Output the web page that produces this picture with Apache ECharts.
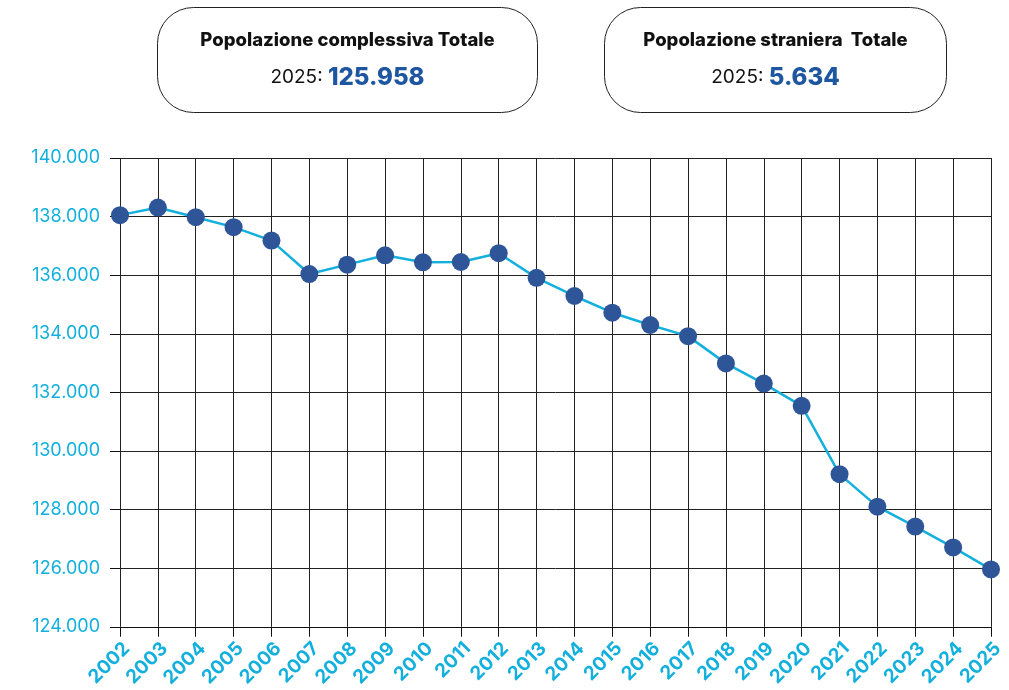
<!DOCTYPE html>
<html>
<head>
<meta charset="utf-8">
<script src="https://cdn.jsdelivr.net/npm/echarts@6/dist/echarts.min.js"></script>
<style>
  html, body { margin: 0; padding: 0; background: #fff; }
  #chart { width: 1009px; height: 690px; }
</style>
</head>
<body>
<div id="chart"></div>
<script>
// anni e popolazione residente totale
const years = ['2002', '2003', '2004', '2005', '2006', '2007', '2008', '2009', '2010', '2011', '2012', '2013',
  '2014', '2015', '2016', '2017', '2018', '2019', '2020', '2021', '2022', '2023', '2024', '2025']
const popolazione = [138050, 138310, 137980, 137640, 137180, 136040, 136360, 136680, 136440, 136450, 136750, 135910,
  135290, 134720, 134300, 133920, 132990, 132300, 131540, 129210, 128100, 127420, 126710, 125958]
const yTicks = [124000, 140000, 2000] // min, max, passo

// riquadri in alto
const boxTitles = ['Popolazione complessiva Totale', 'Popolazione straniera  Totale']
const boxValues = ['125.958', '5.634']
const boxYear = '2025'

const cyan = '#13b0de'
const blu = '#2e5597'
const fontFam = 'Inter, Lato, sans-serif'

const chart = echarts.init(document.getElementById('chart'))

function fmt(v) {
  return String(v).replace(/\B(?=(\d{3})+(?!\d))/g, '.')
}

function box(x, w, i) {
  return {
    type: 'group',
    left: x,
    top: 7,
    children: [
      {
        type: 'rect',
        shape: { x: 0, y: 0, width: w, height: 105, r: 36 },
        style: { fill: '#fff', stroke: '#222', lineWidth: 1 },
      },
      {
        type: 'text',
        x: w / 2,
        y: 33,
        style: {
          text: boxTitles[i],
          font: '800 18.5px ' + fontFam,
          fill: '#111',
          align: 'center',
          verticalAlign: 'middle',
        },
      },
      {
        type: 'text',
        x: w / 2,
        y: 70,
        style: {
          text: '{a|' + boxYear + ': }{b|' + boxValues[i] + '}',
          align: 'center',
          verticalAlign: 'middle',
          rich: {
            a: { font: '19px ' + fontFam, fill: '#111' },
            b: { font: '800 24px ' + fontFam, fill: '#1f56a0' },
          },
        },
      },
    ],
  }
}

const option = {
  animation: false,
  graphic: [box(157, 380, 0), box(604, 342, 1)],
  grid: {
    left: 120,
    right: 18,
    top: 158,
    bottom: 63,
  },
  xAxis: {
    type: 'category',
    data: years,
    boundaryGap: false,
    axisLine: { lineStyle: { color: '#111', width: 1 } },
    axisTick: { show: true, alignWithLabel: true, length: 10, lineStyle: { color: '#111' } },
    axisLabel: {
      rotate: 45,
      interval: 0,
      color: cyan,
      fontFamily: fontFam,
      fontWeight: 700,
      fontSize: 19,
      margin: 12,
      verticalAlign: 'top',
    },
    splitLine: { show: true, lineStyle: { color: '#222', width: 1 } },
  },
  yAxis: {
    type: 'value',
    min: yTicks[0],
    max: yTicks[1],
    interval: yTicks[2],
    axisLine: { show: false },
    axisTick: { show: true, length: 10, lineStyle: { color: '#111' } },
    axisLabel: {
      color: cyan,
      fontFamily: fontFam,
      fontSize: 18,
      margin: 20,
      formatter: fmt,
    },
    splitLine: { show: true, lineStyle: { color: '#222', width: 1 } },
  },
  series: [
    {
      type: 'line',
      data: popolazione,
      symbol: 'circle',
      symbolSize: 18,
      lineStyle: { color: cyan, width: 2.5 },
      itemStyle: { color: blu },
      z: 5,
    },
  ],
}

chart.setOption(option)
</script>
</body>
</html>
